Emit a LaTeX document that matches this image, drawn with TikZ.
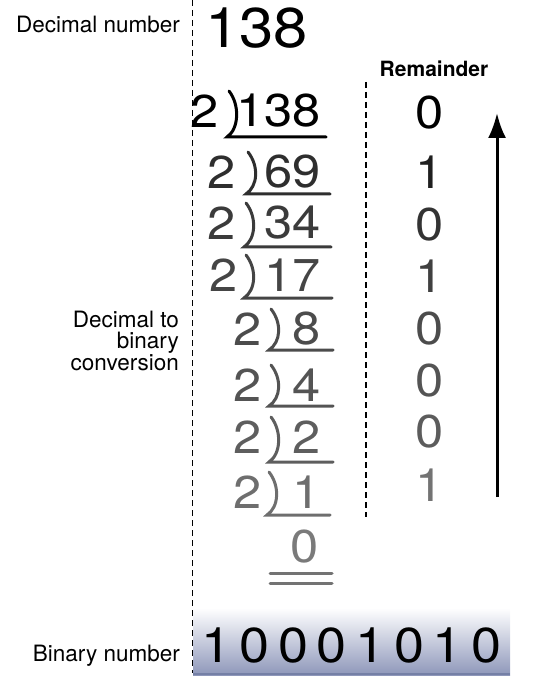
\documentclass[tikz,border=0pt]{standalone}
\usepackage{fontspec}
\setmainfont{TeX Gyre Heros}
\newfontfamily\digitfont[FakeStretch=1.1]{TeX Gyre Heros}
\usetikzlibrary{arrows.meta}
\definecolor{binblue}{HTML}{8E97BA}
\definecolor{binedge}{HTML}{7580A6}
\tikzset{
  lbl/.style={font=\fontsize{22.5}{20.5}\selectfont,inner sep=0pt,align=right},
  numtxt/.style={font=\digitfont\fontsize{46}{46}\selectfont,inner sep=0pt},
  bignum/.style={font=\digitfont\fontsize{56}{56}\selectfont,inner sep=0pt},
  binnum/.style={font=\digitfont\fontsize{49}{49}\selectfont,inner sep=0pt},
  guide/.style={dash pattern=on 6pt off 4pt,line width=1.6pt},
  divline/.style={line width=3pt,line cap=round},
  upar/.style={-{Latex[length=25pt,width=18pt]},line width=3pt}
}
\begin{document}
\begin{tikzpicture}[x=1pt,y=-1pt]
  \useasboundingbox (0,0) rectangle (554,684);
  \shade[top color=white,bottom color=binblue] (193,608) rectangle (510,675);
  \draw[binedge,line width=2pt] (193,674) -- (510,674);
  \draw[guide] (192.5,0) -- (192.5,673);
  \draw[guide] (366,82) -- (366,517);
  \node[lbl,anchor=base east] (declbl) at (180,33) {Decimal number};
  \node[lbl,anchor=east] (convlbl) at (179,341) {Decimal to\\binary\\conversion};
  \node[lbl,anchor=base east] (binlbl) at (180,661) {Binary number};
  \node[bignum,anchor=base west] (dec) at (205,48) {138};
  \node[inner sep=0pt,font=\bfseries\fontsize{21}{21}\selectfont,anchor=base] (remhead) at (434,77) {Remainder};
  \foreach \dv/\y/\ul/\tx/\bx/\ex/\col [count=\i] in {138/111/137/205/228/326/100,69/172/194/222/247/330/82,34/223/247/222/245/331/77,17/275/298/224/245/332/73,8/329/350/248/270/333/70,4/385/406/248/270/333/67,2/437/462/248/270/333/63,1/492/515/248/268/330/57}{
    \node[numtxt,text=black!\col] (d\i) at (\tx,\y) {2};
    \node[numtxt,text=black!\col,anchor=east] (q\i) at (321,\y) {\dv};
    \draw[divline,black!\col] (\bx+1,\y-20) .. controls (\bx+12,\y-6) and (\bx+11,\ul-8) .. (\bx-1,\ul) -- (\ex,\ul);
  }
  \node[numtxt,text=black!52] (q9) at (305,547) {0};
  \draw[divline,black!55] (270,573) -- (332,573);
  \draw[divline,black!55] (270,583) -- (332,583);
  \foreach \rv/\y/\col [count=\i] in {0/113/100,1/172/88,0/225/80,1/276/75,0/329/70,0/381/67,0/432/64,1/485/55}
    \node[numtxt,text=black!\col] (r\i) at (430,\y) {\rv};
  \coordinate (arrtail) at (497,497);
  \coordinate (arrhead) at (497,113);
  \draw[upar] (arrtail) -- (arrhead);
  \foreach \b [count=\i from 0] in {1,0,0,0,1,0,1,0}
    \node[binnum] (b\i) at (216+38.6*\i,645.5) {\b};
\end{tikzpicture}
\end{document}
